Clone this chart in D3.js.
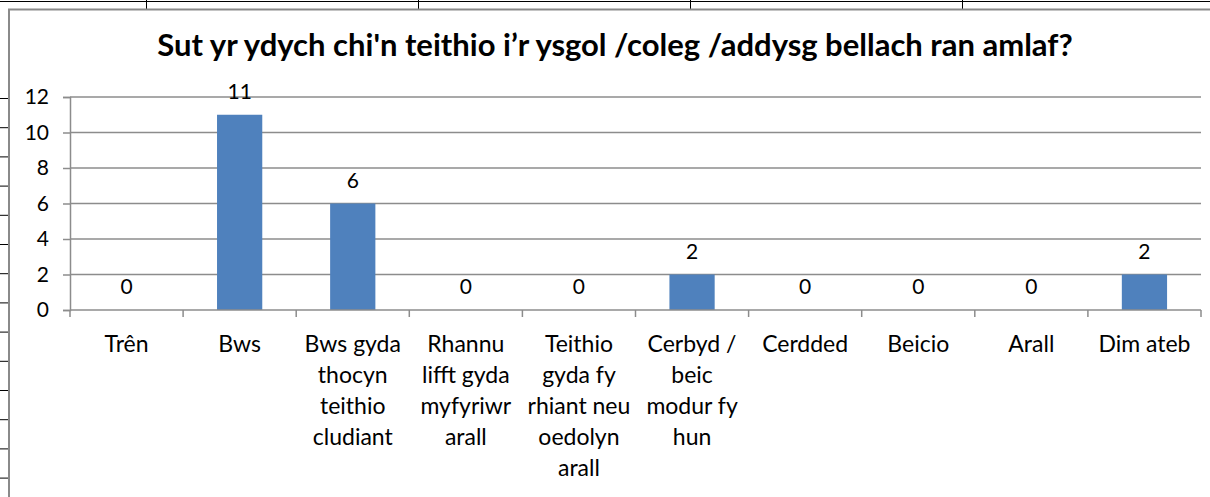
<!DOCTYPE html>
<html>
<head>
<meta charset="utf-8">
<script src="https://cdn.jsdelivr.net/npm/d3@7"></script>
<style>
  body { margin: 0; background: #fff; }
  svg { display: block; font-family: Lato, "Open Sans", sans-serif; }
</style>
</head>
<body>
<svg id="chart" width="1210" height="497"></svg>
<script>
// values
var categories = [
  "Trên",
  "Bws",
  "Bws gyda\nthocyn\nteithio\ncludiant",
  "Rhannu\nlifft gyda\nmyfyriwr\narall",
  "Teithio\ngyda fy\nrhiant neu\noedolyn\narall",
  "Cerbyd /\nbeic\nmodur fy\nhun",
  "Cerdded",
  "Beicio",
  "Arall",
  "Dim ateb"
];
var counts = [0, 11, 6, 0, 0, 2, 0, 0, 0, 2];
var yTicks = [0, 2, 4, 6, 8, 10, 12];
var title = "Sut yr ydych chi'n teithio i’r ysgol /coleg /addysg bellach ran amlaf?";

var svg = d3.select("#chart");

// spreadsheet cells behind the chart
svg.append("line").attr("x1", 0).attr("x2", 1210).attr("y1", 1.5).attr("y2", 1.5)
  .style("stroke", "#000").style("stroke-width", 1);
svg.selectAll(".colline").data(d3.range(4)).enter().append("line")
  .attr("x1", function(d) { return 146.5 + d * 272; })
  .attr("x2", function(d) { return 146.5 + d * 272; })
  .attr("y1", 0).attr("y2", 10)
  .style("stroke", "#000").style("stroke-width", 1);
svg.selectAll(".rowline").data(d3.range(14)).enter().append("line")
  .attr("x1", 0).attr("x2", 8)
  .attr("y1", function(d) { return 98.5 + d * 29.2; })
  .attr("y2", function(d) { return 98.5 + d * 29.2; })
  .style("stroke", "#000").style("stroke-width", 1);

// chart area border
svg.append("path").attr("d", "M9,497 V9.5 H1210")
  .style("fill", "none").style("stroke", "#8a8a8a").style("stroke-width", 2);

var x = d3.scaleBand().domain(d3.range(categories.length)).range([70, 1201])
  .paddingInner(0.6).paddingOuter(0.3);
var y = d3.scaleLinear().domain([0, 12]).range([310, 97]);

svg.append("text").attr("x", 615).attr("y", 56).attr("text-anchor", "middle")
  .style("font-weight", "bold").style("font-size", "31px").style("fill", "#000")
  .text(title);

// gridlines
svg.selectAll(".grid").data(yTicks.slice(1)).enter().append("line")
  .attr("x1", 70).attr("x2", 1201)
  .attr("y1", function(d) { return y(d); }).attr("y2", function(d) { return y(d); })
  .style("stroke", "#8c8c8c").style("stroke-width", 1.5);

// y axis
var yAxis = svg.append("g").attr("transform", "translate(70,0)")
  .call(d3.axisLeft(y).tickValues(yTicks).tickSize(7).tickPadding(14));
yAxis.select(".domain").style("stroke", "#8c8c8c").style("stroke-width", 1.5);
yAxis.selectAll(".tick line").style("stroke", "#8c8c8c").style("stroke-width", 1.5);
yAxis.selectAll(".tick text").style("font-size", "21px").style("font-family", "Lato, sans-serif")
  .style("fill", "#000");

// bars
svg.selectAll(".bar").data(counts).enter().append("rect")
  .attr("x", function(d, i) { return x(i); })
  .attr("width", x.bandwidth())
  .attr("y", function(d) { return y(d); })
  .attr("height", function(d) { return y(0) - y(d); })
  .style("fill", "#4f81bd");

// x axis with ticks at category boundaries
var step = x.step();
svg.append("line").attr("x1", 70).attr("x2", 1201).attr("y1", y(0)).attr("y2", y(0))
  .style("stroke", "#8c8c8c").style("stroke-width", 1.5);
svg.selectAll(".xtick").data(d3.range(categories.length + 1)).enter().append("line")
  .attr("x1", function(d) { return 70 + d * step; })
  .attr("x2", function(d) { return 70 + d * step; })
  .attr("y1", y(0)).attr("y2", y(0) + 7)
  .style("stroke", "#8c8c8c").style("stroke-width", 1.5);

// value labels
svg.selectAll(".val").data(counts).enter().append("text")
  .attr("x", function(d, i) { return x(i) + x.bandwidth() / 2; })
  .attr("y", function(d) { return y(d) - 16; })
  .attr("text-anchor", "middle").style("font-size", "21px").style("fill", "#000")
  .text(function(d) { return d; });

// category labels
var cat = svg.selectAll(".cat").data(categories).enter().append("text")
  .attr("text-anchor", "middle").style("font-size", "23px").style("fill", "#000")
  .attr("transform", function(d, i) { return "translate(" + (x(i) + x.bandwidth() / 2) + ",352)"; });
cat.selectAll("tspan").data(function(d) { return d.split("\n"); }).enter().append("tspan")
  .attr("x", 0).attr("y", function(d, j) { return j * 31; })
  .text(function(d) { return d; });
</script>
</body>
</html>
